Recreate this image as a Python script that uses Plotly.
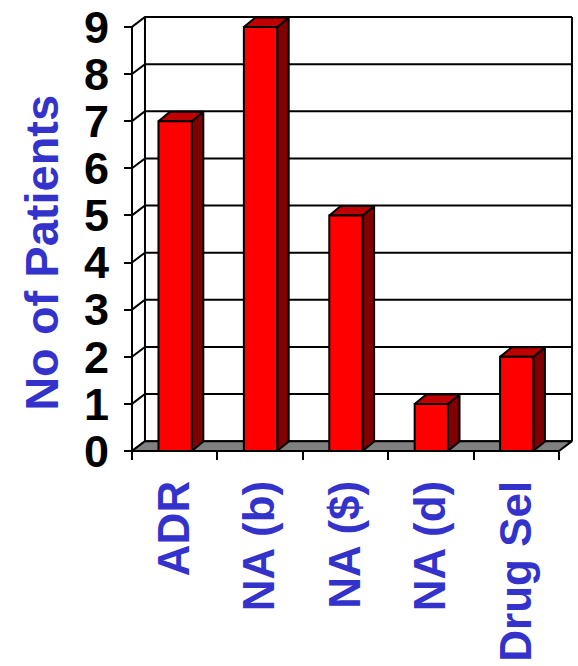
import plotly.graph_objects as go

# ---- data ----
categories = ["ADR", "NA (b)", "NA ($)", "NA (d)", "Drug Sel"]
patients = [7, 9, 5, 1, 2]
y_ticks = list(range(0, 10))
y_title = "No of Patients"

# ---- styling / 3-D projection offsets (in axis units) ----
WALL_DX, WALL_DY = 0.152, 0.21     # depth of the back wall behind the front plane
BAR_DX, BAR_DY = 0.135, 0.20       # depth of each column
BAR_X0, BAR_X1 = 0.31, 0.70        # column front face within its category slot
FRONT = "#FF0000"
TOP = "#C00000"
SIDE = "#800000"
FLOOR = "#808080"
BLUE = "#3333CC"
LW = 2

n = len(categories)
ymax = max(y_ticks)

fig = go.Figure()


def seg_trace(xs, ys):
    fig.add_trace(go.Scatter(x=xs, y=ys, mode="lines",
                             line=dict(color="black", width=LW),
                             hoverinfo="skip", showlegend=False))


def poly(xs, ys, fill):
    fig.add_trace(go.Scatter(x=list(xs) + [xs[0]], y=list(ys) + [ys[0]],
                             mode="lines", fill="toself", fillcolor=fill,
                             line=dict(color="black", width=LW),
                             hoverinfo="skip", showlegend=False))


# back wall gridlines, wall edges and the diagonal connectors from the front axis
xs, ys = [], []
for v in y_ticks:
    xs += [0, WALL_DX, n + WALL_DX, None]
    ys += [v, v + WALL_DY, v + WALL_DY, None]
xs += [WALL_DX, WALL_DX, None, n + WALL_DX, n + WALL_DX, None, 0, 0]
ys += [WALL_DY, ymax + WALL_DY, None, WALL_DY, ymax + WALL_DY, None, 0, ymax]
seg_trace(xs, ys)

# floor
poly([0, n, n + WALL_DX, WALL_DX], [0, 0, WALL_DY, WALL_DY], FLOOR)

# columns: side, top and front faces
for i, v in enumerate(patients):
    x0, x1 = i + BAR_X0, i + BAR_X1
    poly([x1, x1 + BAR_DX, x1 + BAR_DX, x1], [0, BAR_DY, v + BAR_DY, v], SIDE)
    poly([x0, x0 + BAR_DX, x1 + BAR_DX, x1], [v, v + BAR_DY, v + BAR_DY, v], TOP)
    poly([x0, x1, x1, x0], [0, 0, v, v], FRONT)

# ---- layout: pixel geometry ----
W, H = 578, 666
ml, mr, mt, mb = 120, 2, 6, 211
x_px_per_unit = 85.4
x_origin_px = 132
y_px_per_unit = 47.55
y_origin_px = 451

plot_w = W - ml - mr
plot_h = H - mt - mb
x_lo = -(x_origin_px - ml) / x_px_per_unit
x_hi = x_lo + plot_w / x_px_per_unit
y_lo = -((H - mb) - y_origin_px) / y_px_per_unit
y_hi = y_lo + plot_h / y_px_per_unit

fig.update_layout(
    width=W, height=H,
    margin=dict(l=ml, r=mr, t=mt, b=mb, pad=0),
    paper_bgcolor="white", plot_bgcolor="white",
    showlegend=False,
    xaxis=dict(
        range=[x_lo, x_hi], anchor="free",
        position=(H - mb - y_origin_px) / plot_h,
        showgrid=False, zeroline=False, showline=False,
        tickmode="array",
        tickvals=[i + 0.5 for i in range(n)], ticktext=categories,
        ticks="", tickangle=-90,
        tickfont=dict(family="Liberation Sans", size=44, color=BLUE, weight="bold"),
        ticklabelstandoff=20, ticklabeloverflow="allow",
        minor=dict(tickmode="array", tickvals=list(range(n + 1)), ticks="outside",
                   ticklen=8, tickwidth=LW, tickcolor="black", showgrid=False),
    ),
    yaxis=dict(
        range=[y_lo, y_hi], anchor="free",
        position=(x_origin_px - ml) / plot_w,
        showgrid=False, zeroline=False, showline=False,
        tickmode="array", tickvals=y_ticks,
        ticks="outside", ticklen=8, tickwidth=LW, tickcolor="black",
        tickfont=dict(family="Liberation Sans", size=45, color="black", weight="bold"),
        ticklabelstandoff=6, ticklabeloverflow="allow",
    ),
    annotations=[dict(
        text=y_title, textangle=-90, showarrow=False,
        xref="paper", yref="paper", x=0, xshift=42 - ml, xanchor="center",
        y=((H - mb) - 251) / plot_h, yanchor="middle",
        font=dict(family="Liberation Sans", size=47, color=BLUE, weight="bold"),
    )],
)

fig.write_html("out.html")
